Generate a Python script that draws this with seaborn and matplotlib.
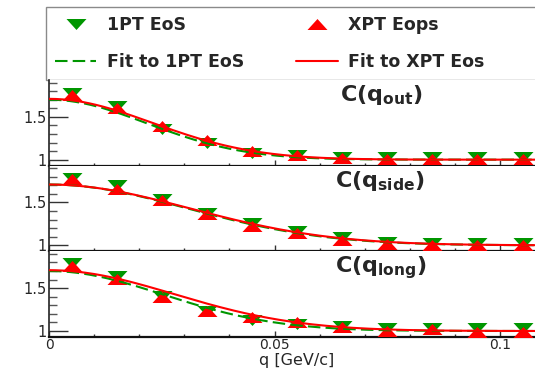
import numpy as np
import pandas as pd
import matplotlib
matplotlib.use("Agg")
import matplotlib.pyplot as plt
from matplotlib.patches import Rectangle
from matplotlib.ticker import MultipleLocator, FuncFormatter
import seaborn as sns

# Pair momentum bins [GeV/c]
q = [0.005, 0.015, 0.025, 0.035, 0.045, 0.055, 0.065, 0.075, 0.085, 0.095, 0.105]

# Correlation functions, 1PT equation of state
c_out_1pt = [1.78, 1.63, 1.36, 1.19, 1.08, 1.06, 1.03, 1.03, 1.03, 1.03, 1.03]
c_side_1pt = [1.79, 1.71, 1.54, 1.38, 1.26, 1.17, 1.10, 1.04, 1.03, 1.03, 1.03]
c_long_1pt = [1.79, 1.64, 1.41, 1.23, 1.13, 1.08, 1.06, 1.03, 1.03, 1.03, 1.03]

# Correlation functions, XPT equation of state
c_out_xpt = [1.76, 1.60, 1.39, 1.23, 1.10, 1.05, 1.02, 1.01, 1.01, 1.01, 1.01]
c_side_xpt = [1.77, 1.66, 1.53, 1.36, 1.22, 1.14, 1.06, 1.01, 1.00, 1.00, 1.00]
c_long_xpt = [1.76, 1.61, 1.40, 1.23, 1.16, 1.10, 1.05, 1.00, 1.02, 0.99, 0.99]

# Gaussian fit results: (lambda, R [fm])
fit_out_1pt, fit_out_xpt = (0.70, 6.43), (0.71, 6.10)
fit_side_1pt, fit_side_xpt = (0.71, 4.54), (0.71, 4.46)
fit_long_1pt, fit_long_xpt = (0.70, 5.50), (0.71, 5.03)

legend_labels = ["1PT EoS", "XPT Eops", "Fit to 1PT EoS", "Fit to XPT Eos"]
panel_titles = [r"$\mathbf{C(q_{out})}$", r"$\mathbf{C(q_{side})}$", r"$\mathbf{C(q_{long})}$"]
x_label = "q [GeV/c]"

HBARC = 0.1973  # GeV fm
GREEN = "#009600"
RED = "#ff0000"


def gauss_fit(qq, lam, radius):
    return 1.0 + lam * np.exp(-(qq * radius / HBARC) ** 2)


sns.set_theme(style="white")
plt.rcParams["font.family"] = ["DejaVu Sans"]
plt.rcParams["mathtext.fontset"] = "dejavusans"

W, H = 535, 371
fig = plt.figure(figsize=(W / 100, H / 100), dpi=100)

x_max = 0.11
ax_left = 49 / W
ax_width = 0.11 * 4510 / W
panel_h = 85.67 / H
bottom0 = (H - 337) / H

down_tri = [(-1, 0.55), (1, 0.55), (0, -0.55)]
up_tri = [(-1, -0.55), (1, -0.55), (0, 0.55)]

panels = [
    (c_out_1pt, c_out_xpt, fit_out_1pt, fit_out_xpt, panel_titles[0], 0.587),
    (c_side_1pt, c_side_xpt, fit_side_1pt, fit_side_xpt, panel_titles[1], 0.577),
    (c_long_1pt, c_long_xpt, fit_long_1pt, fit_long_xpt, panel_titles[2], 0.577),
]

q_fine = np.linspace(0.0, x_max, 221)
axes = []
for i, (c1, cx, f1, fx, title, tx) in enumerate(panels):
    ax = fig.add_axes([ax_left, bottom0 + (2 - i) * panel_h, ax_width, panel_h])
    axes.append(ax)
    pts1 = pd.DataFrame({"q": q, "C": c1})
    ptsx = pd.DataFrame({"q": q, "C": cx})
    fit1 = pd.DataFrame({"q": q_fine, "C": gauss_fit(q_fine, *f1)})
    fitx = pd.DataFrame({"q": q_fine, "C": gauss_fit(q_fine, *fx)})

    sns.scatterplot(data=pts1, x="q", y="C", marker=down_tri, s=207, color=GREEN,
                    linewidth=0, ax=ax, label=legend_labels[0], legend=False, zorder=3)
    sns.scatterplot(data=ptsx, x="q", y="C", marker=up_tri, s=207, color=RED,
                    linewidth=0, ax=ax, label=legend_labels[1], legend=False, zorder=4)
    sns.lineplot(data=fit1, x="q", y="C", color=GREEN, linewidth=1.5,
                 linestyle=(0, (6, 2.5)), ax=ax, label=legend_labels[2],
                 legend=False, errorbar=None, zorder=5)
    sns.lineplot(data=fitx, x="q", y="C", color=RED, linewidth=1.5, ax=ax,
                 label=legend_labels[3], legend=False, errorbar=None, zorder=6)

    ax.set_xlim(0, x_max)
    ax.set_ylim(0.93, 1.93)
    ax.set_xlabel("")
    ax.set_ylabel("")
    ax.set_facecolor("white")
    for side in ("top", "right"):
        ax.spines[side].set_visible(False)
    ax.spines["left"].set_color("#222222")
    ax.spines["left"].set_linewidth(1.2)
    ax.spines["bottom"].set_color("#111111")
    ax.spines["bottom"].set_linewidth(1.6)

    ax.yaxis.set_major_locator(MultipleLocator(0.5))
    ax.yaxis.set_minor_locator(MultipleLocator(0.1))
    ax.xaxis.set_major_locator(MultipleLocator(0.05))
    ax.xaxis.set_minor_locator(MultipleLocator(0.01))
    fmt = FuncFormatter(lambda v, _: f"{v:g}")
    ax.yaxis.set_major_formatter(fmt)
    ax.xaxis.set_major_formatter(fmt)

    ax.tick_params(axis="y", which="major", direction="in", length=13.5, width=1.0,
                   color="#333333", labelsize=10.5, pad=2, left=True)
    ax.tick_params(axis="y", which="minor", direction="in", length=6, width=1.0,
                   color="#555555", left=True)
    ax.tick_params(axis="x", which="major", direction="in", length=4, width=1.0,
                   color="#333333", labelsize=10, pad=1, bottom=True)
    ax.tick_params(axis="x", which="minor", direction="in", length=2.5, width=1.0,
                   color="#333333", bottom=True)
    if i < 2:
        ax.tick_params(axis="x", labelbottom=False)

    ax.text(tx, 0.755, title, transform=ax.transAxes, fontsize=16,
            fontweight="bold", ha="left", va="baseline", zorder=10)

axes[2].set_xlabel(x_label, fontsize=11.5, labelpad=0.5)

# Legend box across the top
fig.add_artist(Rectangle((46 / W, (H - 80) / H), 1.2, 73 / H, transform=fig.transFigure,
                         facecolor="white", edgecolor="#8a8a8a", linewidth=1.0,
                         clip_on=False, zorder=0))

# Column-major fill: markers in the left column pair with fits in the right one
h, l = axes[0].get_legend_handles_labels()
leg_order = [legend_labels[0], legend_labels[2], legend_labels[1], legend_labels[3]]
handles = [h[l.index(name)] for name in leg_order]
leg = fig.legend(handles, leg_order, ncol=2, loc="upper left",
                 bbox_to_anchor=(46 / W, 1 - 7 / H), bbox_transform=fig.transFigure,
                 borderaxespad=0, borderpad=0.5, frameon=False,
                 prop={"family": "DejaVu Sans", "weight": "bold", "size": 12.5},
                 handlelength=2.4, handletextpad=0.6, columnspacing=3.0,
                 labelspacing=1.1, scatterpoints=1, scatteryoffsets=[0.5])

fig.savefig("out.png", dpi=100)
